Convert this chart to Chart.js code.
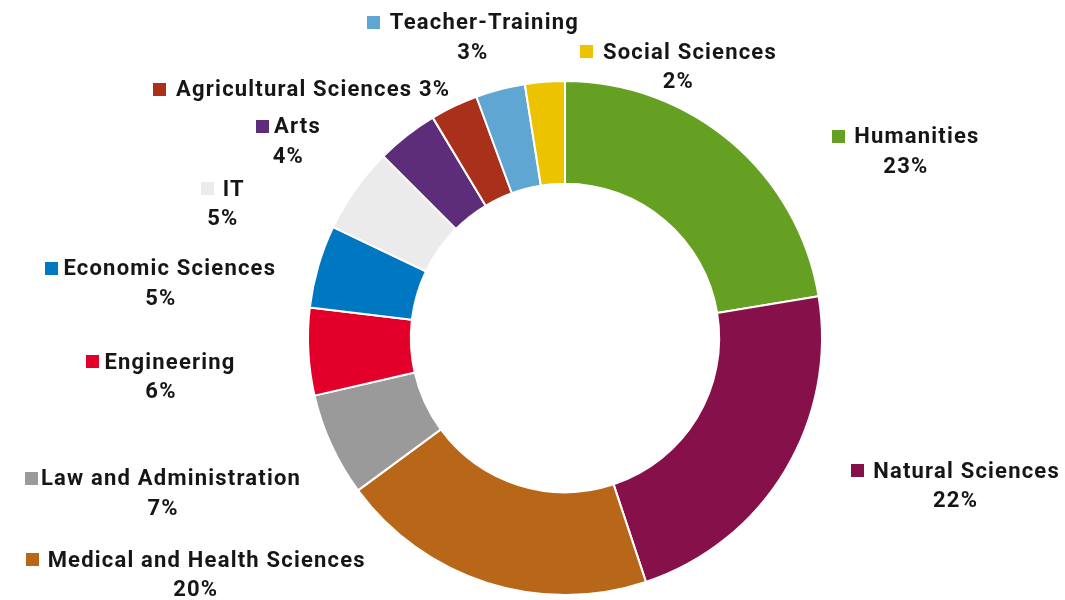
<!DOCTYPE html>
<html lang="en">
<head>
<meta charset="UTF-8">
<title>Students by field of study</title>
<script src="https://cdn.jsdelivr.net/npm/chart.js"></script>
<style>
  * { margin: 0; padding: 0; box-sizing: border-box; }
  body { background: #fff; width: 1065px; height: 600px; overflow: hidden; }
</style>
</head>
<body>
<canvas id="chart" width="1065" height="600"></canvas>
<script>
// Data (slice sizes in %, labels as printed)
const fields = [
  'Humanities', 'Natural Sciences', 'Medical and Health Sciences',
  'Law and Administration', 'Engineering', 'Economic Sciences', 'IT',
  'Arts', 'Agricultural Sciences', 'Teacher-Training', 'Social Sciences'
];
const shares = [22.4, 22.5, 20.0, 6.5, 5.5, 5.2, 5.4, 3.9, 3.0, 3.1, 2.5];
const shareLabels = ['23%', '22%', '20%', '7%', '6%', '5%', '5%', '4%', '3%', '3%', '2%'];

const colors = [
  '#65a023', '#86104a', '#b86718', '#9a9a9a', '#e2002b', '#0078c1',
  '#ebebeb', '#5e2d7a', '#a9301b', '#5fa6d3', '#ecc300'
];

// where each label block sits, relative to the middle of its slice's outer edge
const labelOffsets = [
  [174, -6], [170, 0], [-292, -23], [-169, 33], [-148, 10], [-158, 2],
  [-133, -1], [-119, -9], [-153, -17], [-28, -67], [133, -30]
];
// space between the colour square and the name
const labelGaps = [9, 9, 9, 3, 5, 5, 9, 5, 10, 10, 10];
const oneLine = [false, false, false, false, false, false, false, false, true, false, false];

const FONT = 'bold 22px Roboto';
const textColor = '#161616';

const outsideLabels = {
  id: 'outsideLabels',
  afterDraw(chart) {
    const ctx = chart.ctx;
    const meta = chart.getDatasetMeta(0);
    ctx.save();
    ctx.font = FONT;
    ctx.letterSpacing = '1.2px';
    ctx.textBaseline = 'middle';
    meta.data.forEach((arc, i) => {
      const p = arc.getProps(['x', 'y', 'startAngle', 'endAngle', 'outerRadius'], true);
      const mid = (p.startAngle + p.endAngle) / 2;
      const cx = p.x + p.outerRadius * Math.cos(mid) + labelOffsets[i][0];
      const cy = p.y + p.outerRadius * Math.sin(mid) + labelOffsets[i][1];
      const box = 13, gap = labelGaps[i];
      const line1 = oneLine[i] ? fields[i] + ' ' + shareLabels[i] : fields[i];
      const w = box + gap + ctx.measureText(line1).width - 1.2;
      const x0 = cx - w / 2;
      ctx.fillStyle = colors[i];
      ctx.fillRect(Math.round(x0), Math.round(cy - box / 2), box, box);
      ctx.fillStyle = textColor;
      ctx.fillText(line1, x0 + box + gap, cy + 1.5);
      if (!oneLine[i]) {
        const pw = ctx.measureText(shareLabels[i]).width - 1.2;
        ctx.fillText(shareLabels[i], cx - pw / 2, cy + 31);
      }
    });
    ctx.restore();
  }
};

new Chart(document.getElementById('chart'), {
  type: 'doughnut',
  data: {
    labels: fields,
    datasets: [{
      data: shares,
      backgroundColor: colors,
      borderColor: '#ffffff',
      borderWidth: 2
    }]
  },
  options: {
    responsive: false,
    animation: false,
    cutout: '60%',
    layout: { padding: { top: 80, bottom: 4, left: 300, right: 235 } },
    plugins: {
      legend: { display: false },
      tooltip: { enabled: false }
    }
  },
  plugins: [outsideLabels]
});
</script>
</body>
</html>
